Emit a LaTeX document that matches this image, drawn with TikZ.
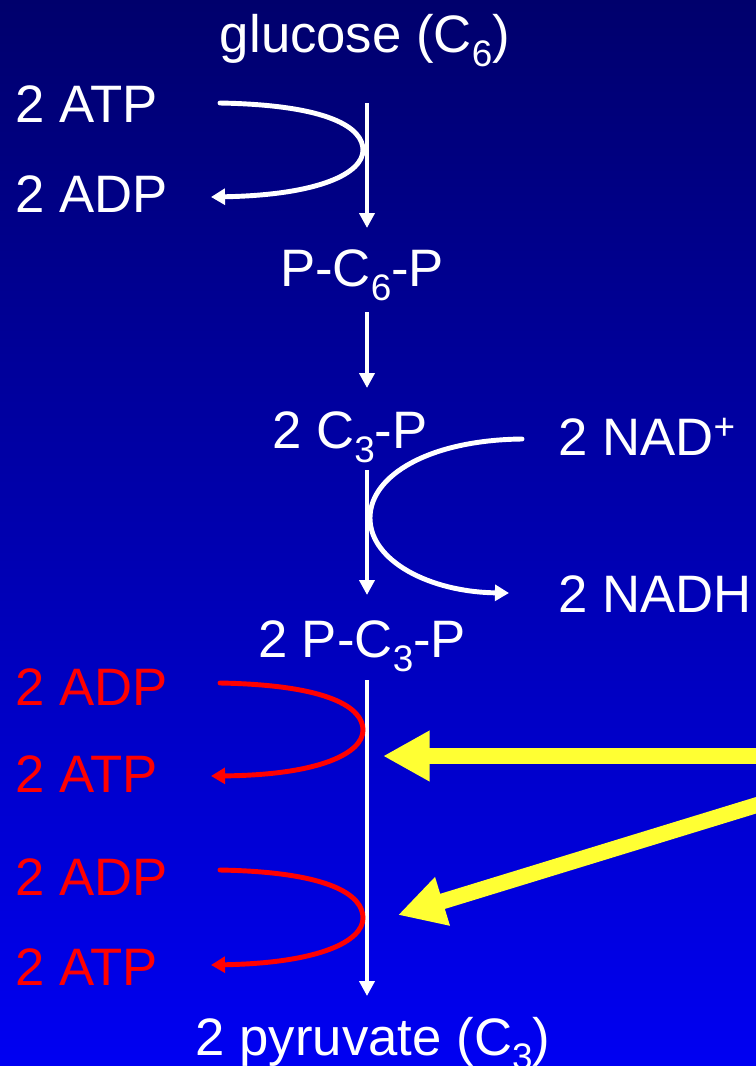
\documentclass[tikz,border=0pt]{standalone}
\usepackage{fontspec}
\setmainfont{Liberation Sans}
\usetikzlibrary{arrows.meta}
\definecolor{bgtop}{RGB}{0,0,108}
\definecolor{bgbottom}{RGB}{0,0,242}
\definecolor{hiyellow}{RGB}{255,255,51}
\newcommand{\chemsub}[1]{\raisebox{-8pt}{\fontsize{21}{21}\selectfont #1}}

\begin{document}
\begin{tikzpicture}[
  x=0.02cm, y=-0.02cm,
  lbl/.style={text=white, font=\fontsize{30}{35}\selectfont, inner sep=0pt, anchor=base},
  side/.style={lbl, anchor=base west},
  gain/.style={side, text=red},
  flow/.style={white, line width=2.8pt, -{Triangle[length=8.5pt, width=8.5pt]}},
  swing/.style={white, line width=2.8pt, line cap=round, -{Triangle[length=8pt, width=9pt]}},
  redswing/.style={swing, red},
  hint/.style={hiyellow, line width=9pt, -{Triangle[length=26.5pt, width=27pt]}}
]
\useasboundingbox (0,0) rectangle (756,1066);
\clip (0,0) rectangle (756,1066);
\shade[top color=bgtop, bottom color=bgbottom] (0,0) rectangle (756,1066);

% pathway
\node[lbl] (glucose) at (365,52) {glucose (C\chemsub{6})};
\node[lbl] (pcp) at (362,286) {P-C\chemsub{6}-P};
\node[lbl] (ctp) at (350,448) {2 C\chemsub{3}-P};
\node[lbl] (pctp) at (362,657) {2 P-C\chemsub{3}-P};
\node[lbl] (pyruvate) at (373,1055) {2 pyruvate (C\chemsub{3})};

% side reactants
\node[side] (atpin) at (15,122) {2 ATP};
\node[side] (adpout) at (15,212) {2 ADP};
\node[side] (nad) at (558,455) {2 NAD\textsuperscript{+}};
\node[side] (nadh) at (558,612) {2 NADH};
\node[gain] (adpa) at (15,705) {2 ADP};
\node[gain] (atpa) at (15,792) {2 ATP};
\node[gain] (adpb) at (15,895) {2 ADP};
\node[gain] (atpb) at (15,985) {2 ATP};

\coordinate (s1) at (367,103);  \coordinate (e1) at (367,228);
\coordinate (s2) at (367,312);  \coordinate (e2) at (367,388);
\coordinate (s3) at (367,470);  \coordinate (e3) at (367,595);
\coordinate (s4) at (367,680);  \coordinate (e4) at (367,996);

\draw[flow] (s1) -- (e1);
\draw[flow] (s2) -- (e2);
\draw[flow] (s3) -- (e3);
\draw[flow] (s4) -- (e4);

% coupled reactions
\draw[swing] (220,103) .. controls (330,105) and (363,128) .. (363,150)
  .. controls (363,173) and (320,195) .. (211,197);
\draw[swing] (522,439) .. controls (430,440) and (370,475) .. (370,518)
  .. controls (370,561) and (430,592) .. (509,593);
\draw[redswing] (220,683) .. controls (330,685) and (363,708) .. (363,730)
  .. controls (363,753) and (320,775) .. (211,776);
\draw[redswing] (220,870) .. controls (330,872) and (363,895) .. (363,918)
  .. controls (363,941) and (320,963) .. (211,965);

% highlights
\coordinate (h1) at (770,756);
\coordinate (h2) at (770,801);
\draw[hint] (h1) -- (383,756);
\draw[hint] (h2) -- (398,915);
\end{tikzpicture}
\end{document}
